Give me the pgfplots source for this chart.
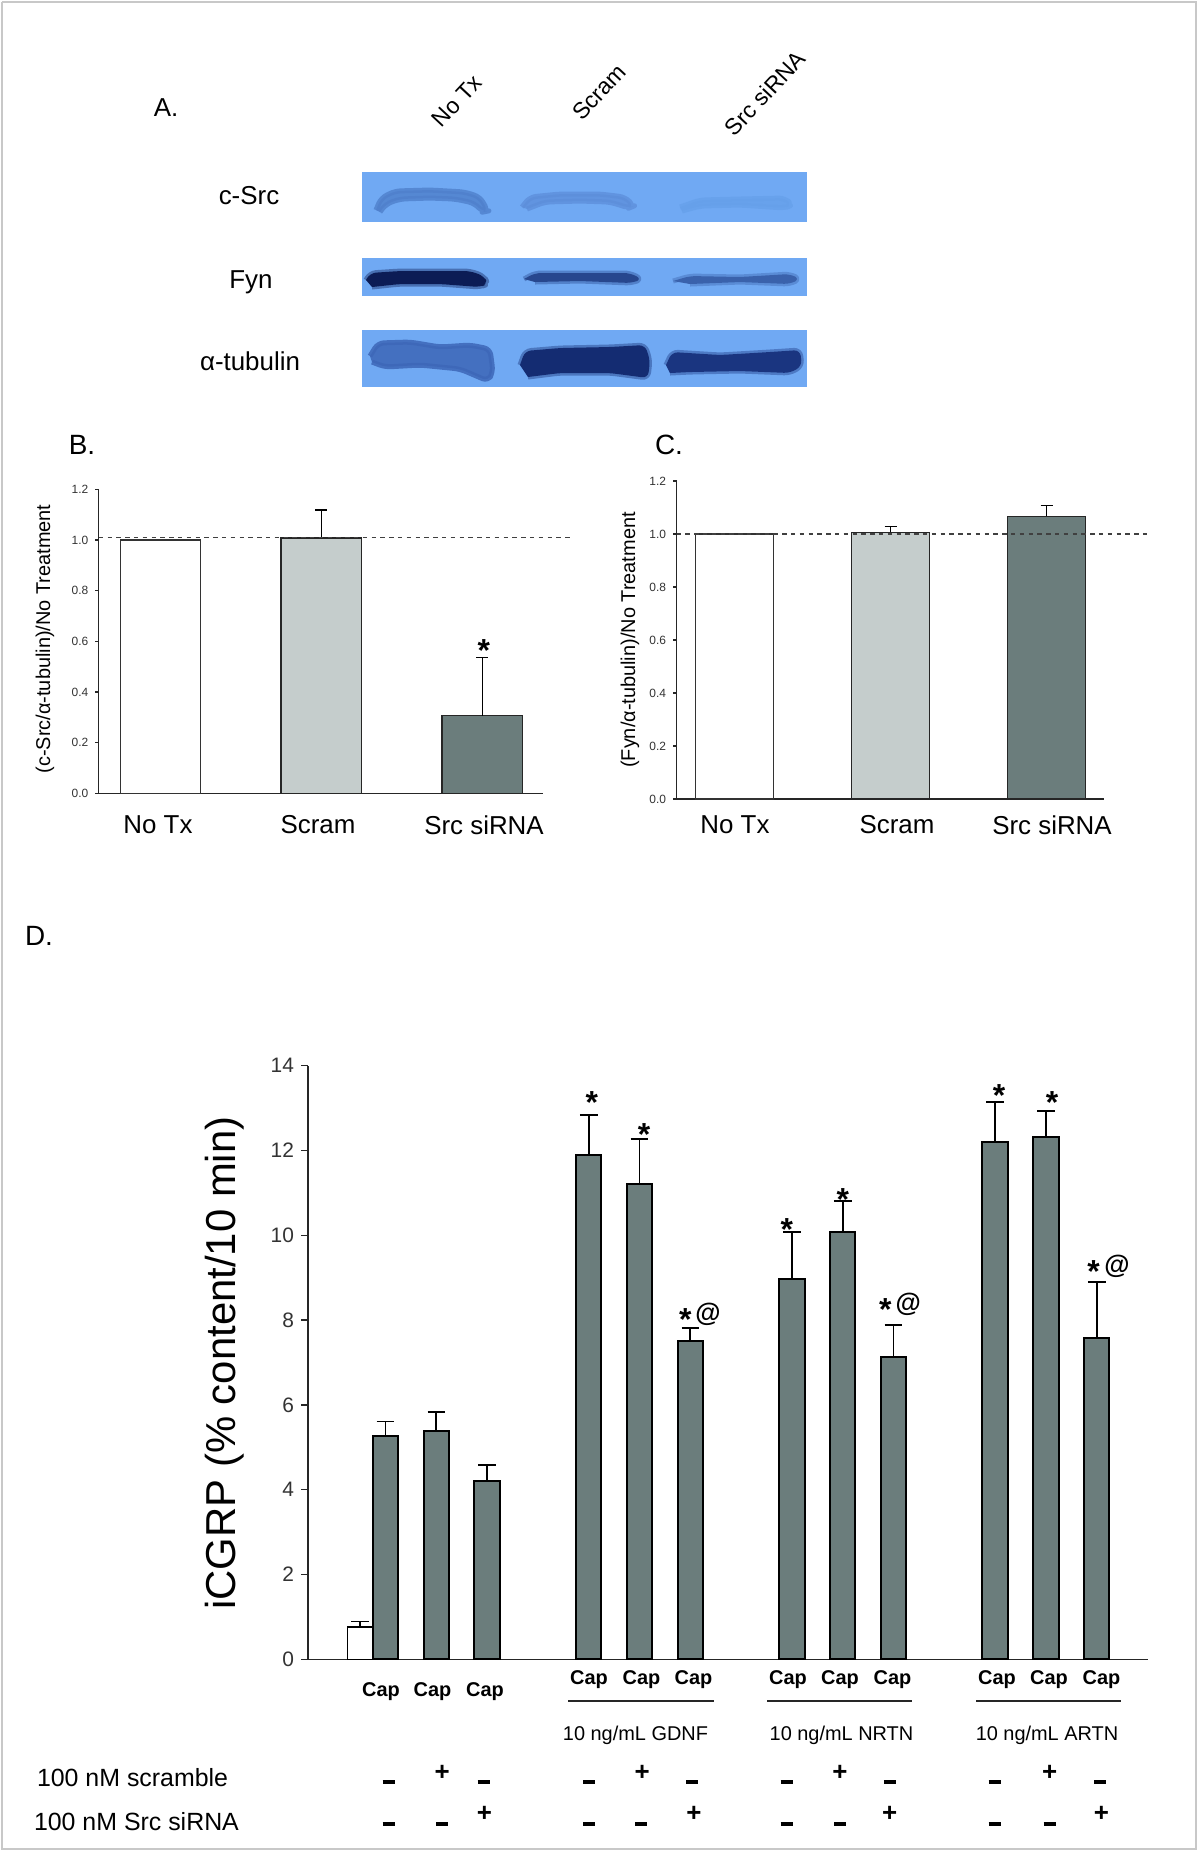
\documentclass[border=0pt]{standalone}
\usepackage{fontspec}
\setmainfont{Liberation Sans}
\usepackage{pgfplots}
\pgfplotsset{compat=1.18}
\definecolor{darkbar}{HTML}{6B7D7C}
\definecolor{lightbar}{HTML}{C5CDCC}
\definecolor{blotbg}{HTML}{70A9F3}
\definecolor{framegray}{HTML}{C8C8C8}
\definecolor{bandA}{HTML}{4F80CC}
\definecolor{bandB}{HTML}{5C8EDA}
\definecolor{bandC}{HTML}{66A0EA}
\definecolor{bandD}{HTML}{0C1C55}
\definecolor{bandE}{HTML}{27478E}
\definecolor{bandF}{HTML}{3A62AC}
\definecolor{bandG}{HTML}{3D67B8}
\definecolor{bandH}{HTML}{142C72}
\definecolor{bandI}{HTML}{1A3580}
\newcommand{\fs}[1]{\fontsize{#1}{#1}\selectfont}
\newcommand{\minus}{\rule{6bp}{1.8bp}}
\pgfplotsset{
  mybar/.style={ybar, bar width=0.5, bar shift=0pt},
  band/.style={rounded corners=3bp, line join=round, fill=#1, draw=#1, draw opacity=0.4, line width=2.5bp},
}
\tikzset{
  caplab/.style={font=\bfseries\fs{10}},
  pluslab/.style={font=\bfseries\fs{13}, inner sep=0pt},
  minlab/.style={inner sep=0pt},
  starlab/.style={font=\bfseries\fs{16}, anchor=base, yshift=-9.2bp, inner sep=0pt},
  atlab/.style={font=\bfseries\fs{13}, anchor=center, yshift=-1bp, inner sep=0pt},
}
\begin{document}
\begin{tikzpicture}
% ---------- overlay in pixel coordinates ----------
\begin{axis}[at={(0bp,0bp)}, anchor=north west, width=600bp, height=926.5bp,
  scale only axis, xmin=0, xmax=1200, ymin=0, ymax=1853, y dir=reverse,
  hide axis, clip=false]
\addplot[draw=framegray, line width=1bp] coordinates {(2,2)(1196,2)(1196,1849)(2,1849)(2,2)};
% blot boxes
\addplot[fill=blotbg, draw=none] coordinates {(362,172)(807,172)(807,222)(362,222)};
\addplot[fill=blotbg, draw=none] coordinates {(362,258)(807,258)(807,296)(362,296)};
\addplot[fill=blotbg, draw=none] coordinates {(362,330)(807,330)(807,387)(362,387)};
% c-Src bands
\addplot[band=bandA, opacity=0.8] coordinates {(376,210)(381,198)(395,191)(430,190)(465,192)(480,197)(488,211)(483,212)(474,203)(455,199)(430,198)(400,199)(386,204)(380,212)};
\addplot[band=bandB, opacity=0.75] coordinates {(522,207)(530,197)(560,194)(600,194)(625,197)(634,206)(629,208)(610,202)(580,201)(545,202)(527,209)};
\addplot[band=bandC, opacity=0.75] coordinates {(680,207)(700,200)(740,199)(785,198)(792,205)(785,208)(740,205)(700,206)(682,211)};
% Fyn bands
\addplot[band=bandD] coordinates {(366,280)(370,273)(400,271)(470,271)(484,276)(488,284)(480,287)(440,284)(400,284)(372,287)};
\addplot[band=bandE] coordinates {(524,279)(535,273)(580,273)(630,273)(642,279)(632,283)(580,281)(535,282)};
\addplot[band=bandF] coordinates {(673,281)(690,276)(740,277)(790,274)(800,279)(790,284)(740,282)(690,284)};
% tubulin bands
\addplot[band=bandG, opacity=0.85] coordinates {(370,356)(378,343)(410,342)(440,347)(470,345)(490,349)(493,372)(488,381)(460,369)(420,365)(385,367)(372,362)};
\addplot[band=bandH] coordinates {(520,365)(525,351)(560,348)(610,347)(645,345)(650,360)(648,378)(610,373)(560,373)(528,377)};
\addplot[band=bandI] coordinates {(666,365)(672,352)(720,355)(770,352)(800,350)(802,366)(790,373)(740,371)(690,372)(670,373)};
% panel A text
\node[font=\fs{13}] at (axis cs:166,108) {A.};
\node[font=\fs{11.5}, rotate=47] at (axis cs:457,101) {No Tx};
\node[font=\fs{11.5}, rotate=47] at (axis cs:599,92) {Scram};
\node[font=\fs{11.5}, rotate=47] at (axis cs:765,93) {Src siRNA};
\node[font=\fs{13}] at (axis cs:249,196) {c-Src};
\node[font=\fs{13}] at (axis cs:251,282) {Fyn};
\node[font=\fs{13}] at (axis cs:250,361) {α-tubulin};
% panel B/C text
\node[font=\fs{14}] at (axis cs:82,445) {B.};
\node[font=\fs{14}] at (axis cs:669,445) {C.};
\node[font=\fs{10}, rotate=90] at (axis cs:45,639) {(c-Src/α-tubulin)/No Treatment};
\node[font=\fs{10}, rotate=90] at (axis cs:630,640) {(Fyn/α-tubulin)/No Treatment};
\node[font=\fs{13}] at (axis cs:158,825) {No Tx};
\node[font=\fs{13}] at (axis cs:318,825) {Scram};
\node[font=\fs{13}] at (axis cs:484,825) {Src siRNA};
\node[font=\fs{13}] at (axis cs:735,825) {No Tx};
\node[font=\fs{13}] at (axis cs:897,825) {Scram};
\node[font=\fs{13}] at (axis cs:1052,825) {Src siRNA};
% panel D text
\node[font=\fs{14}] at (axis cs:39,936) {D.};
\node[font=\fs{21}, rotate=90] at (axis cs:224.5,1363) {iCGRP (\% content/10 min)};
\foreach \xx in {381,432.5,485} {\edef\tmp{\noexpand\node[caplab] at (axis cs:\xx,1692) {Cap};}\tmp}
\foreach \xx in {589,641.5,693.5,788,840,892.5,997,1049,1101.5} {\edef\tmp{\noexpand\node[caplab] at (axis cs:\xx,1680) {Cap};}\tmp}
\addplot[draw=black!85, line width=1bp] coordinates {(568,1701)(714,1701)};
\addplot[draw=black!85, line width=1bp] coordinates {(767,1701)(912,1701)};
\addplot[draw=black!85, line width=1bp] coordinates {(976,1701)(1121,1701)};
\node[font=\fs{10}] at (axis cs:635.5,1735) {10 ng/mL GDNF};
\node[font=\fs{10}] at (axis cs:841.5,1735) {10 ng/mL NRTN};
\node[font=\fs{10}] at (axis cs:1047,1735) {10 ng/mL ARTN};
\node[font=\fs{12.5}, anchor=west] at (axis cs:30,1778) {100 nM scramble};
\node[font=\fs{12.5}, anchor=west] at (axis cs:27,1822) {100 nM Src siRNA};
% +/- rows
\foreach \xx in {388.7,483.6,589,692.4,786.5,889.8,994.6,1100.2} {\edef\tmp{\noexpand\node[minlab] at (axis cs:\xx,1782) {\noexpand\minus};}\tmp}
\foreach \xx in {442.2,642.2,840,1049.7} {\edef\tmp{\noexpand\node[pluslab] at (axis cs:\xx,1773) {+};}\tmp}
\foreach \xx in {388.7,442.2,589,641,786.5,840,994.6,1049.7} {\edef\tmp{\noexpand\node[minlab] at (axis cs:\xx,1824) {\noexpand\minus};}\tmp}
\foreach \xx in {484.5,694,889.8,1101.5} {\edef\tmp{\noexpand\node[pluslab] at (axis cs:\xx,1814) {+};}\tmp}
\end{axis}

% ---------- panel B ----------
\begin{axis}[at={(49.35bp,-396.65bp)}, anchor=south west, width=222.35bp, height=152bp,
  scale only axis, xmin=0.617, xmax=3.38, ymin=0, ymax=1.2,
  axis x line=bottom, axis y line=left, axis line style={-, line width=0.6bp, black!85},
  xtick=\empty, ytick={0,0.2,0.4,0.6,0.8,1.0,1.2},
  tick align=outside, major tick length=1.7bp, tick style={line width=0.6bp, black!85},
  yticklabel style={font=\fs{6}, text=black!80},
  /pgf/number format/fixed, /pgf/number format/fixed zerofill,
  /pgf/number format/precision=1, /pgf/number format/assume math mode=true,
  clip=false]
\addplot[mybar, fill=white, draw=black!80, line width=0.6bp] coordinates {(1,1.0)};
\addplot[mybar, fill=lightbar, draw=black!85, line width=0.7bp,
  error bars/.cd, y dir=plus, y explicit,
  error bar style={line width=0.6bp, black}, error mark options={rotate=90, mark size=3bp, line width=0.6bp, black}]
  coordinates {(2,1.008) +- (0,0.11)};
\addplot[mybar, fill=darkbar, draw=black!85, line width=0.7bp,
  error bars/.cd, y dir=plus, y explicit,
  error bar style={line width=0.6bp, black}, error mark options={rotate=90, mark size=3bp, line width=0.6bp, black}]
  coordinates {(3,0.307) +- (0,0.23)};
\addplot[draw=black!75, line width=0.6bp, dash pattern=on 2.2bp off 2.2bp] coordinates {(0.617,1.01)(3.56,1.01)};
\node[starlab] at (axis cs:3.01,0.594) {*};
\end{axis}

% ---------- panel C ----------
\begin{axis}[at={(338.25bp,-399.5bp)}, anchor=south west, width=213.95bp, height=159bp,
  scale only axis, xmin=0.628, xmax=3.371, ymin=0, ymax=1.2,
  axis x line=bottom, axis y line=left, axis line style={-, line width=0.6bp, black!85},
  xtick=\empty, ytick={0,0.2,0.4,0.6,0.8,1.0,1.2},
  tick align=outside, major tick length=1.7bp, tick style={line width=0.6bp, black!85},
  yticklabel style={font=\fs{6}, text=black!80},
  /pgf/number format/fixed, /pgf/number format/fixed zerofill,
  /pgf/number format/precision=1, /pgf/number format/assume math mode=true,
  clip=false]
\addplot[mybar, fill=white, draw=black!80, line width=0.6bp] coordinates {(1,1.0)};
\addplot[mybar, fill=lightbar, draw=black!85, line width=0.7bp,
  error bars/.cd, y dir=plus, y explicit,
  error bar style={line width=0.6bp, black}, error mark options={rotate=90, mark size=3bp, line width=0.6bp, black}]
  coordinates {(2,1.006) +- (0,0.022)};
\addplot[mybar, fill=darkbar, draw=black!85, line width=0.7bp,
  error bars/.cd, y dir=plus, y explicit,
  error bar style={line width=0.6bp, black}, error mark options={rotate=90, mark size=3bp, line width=0.6bp, black}]
  coordinates {(3,1.067) +- (0,0.04)};
\addplot[draw=black!75, line width=0.6bp, dash pattern=on 2.2bp off 2.2bp] coordinates {(0.628,1.0)(3.67,1.0)};
\end{axis}

% ---------- panel D ----------
\begin{axis}[at={(154bp,-829.65bp)}, anchor=south west, width=419.75bp, height=296.8bp,
  scale only axis, xmin=-0.5256, xmax=16, ymin=0, ymax=14,
  axis x line=bottom, axis y line=left, axis line style={-, line width=0.75bp, black!85},
  xtick=\empty, ytick={0,2,4,6,8,10,12,14},
  tick align=outside, major tick length=3.5bp, tick style={line width=0.75bp, black!85},
  yticklabel style={font=\fs{10.5}, text=black!80},
  /pgf/number format/assume math mode=true,
  clip=false]
\addplot[mybar, fill=white, draw=black, line width=0.8bp,
  error bars/.cd, y dir=plus, y explicit,
  error bar style={line width=0.9bp, black}, error mark options={rotate=90, mark size=4.4bp, line width=0.9bp, black}]
  coordinates {(0.5,0.76) +- (0,0.13)};
\addplot[mybar, fill=darkbar, draw=black, line width=1bp,
  error bars/.cd, y dir=plus, y explicit,
  error bar style={line width=0.9bp, black}, error mark options={rotate=90, mark size=4.4bp, line width=0.9bp, black}]
  coordinates {
  (1,5.26) +- (0,0.35)
  (2,5.38) +- (0,0.46)
  (3,4.20) +- (0,0.39)
  (5,11.89) +- (0,0.95)
  (6,11.20) +- (0,1.07)
  (7,7.50) +- (0,0.32)
  (9,8.97) +- (0,1.10)
  (10,10.08) +- (0,0.73)
  (11,7.13) +- (0,0.75)
  (13,12.19) +- (0,0.95)
  (14,12.31) +- (0,0.62)
  (15,7.59) +- (0,1.30)
  };
% significance marks
\node[starlab] at (axis cs:5.06,13.3) {*};
\node[starlab] at (axis cs:6.09,12.56) {*};
\node[starlab] at (axis cs:8.9,10.3) {*};
\node[starlab] at (axis cs:10.0,11.03) {*};
\node[starlab] at (axis cs:13.08,13.48) {*};
\node[starlab] at (axis cs:14.12,13.3) {*};
\node[starlab] at (axis cs:6.9,8.19) {*};
\node[starlab] at (axis cs:10.84,8.42) {*};
\node[starlab] at (axis cs:14.94,9.32) {*};
\node[atlab] at (axis cs:7.35,8.19) {@};
\node[atlab] at (axis cs:11.29,8.42) {@};
\node[atlab] at (axis cs:15.4,9.32) {@};
\end{axis}
\pgfresetboundingbox
\path (0bp,0bp) rectangle (600bp,-926.5bp);
\end{tikzpicture}
\end{document}
